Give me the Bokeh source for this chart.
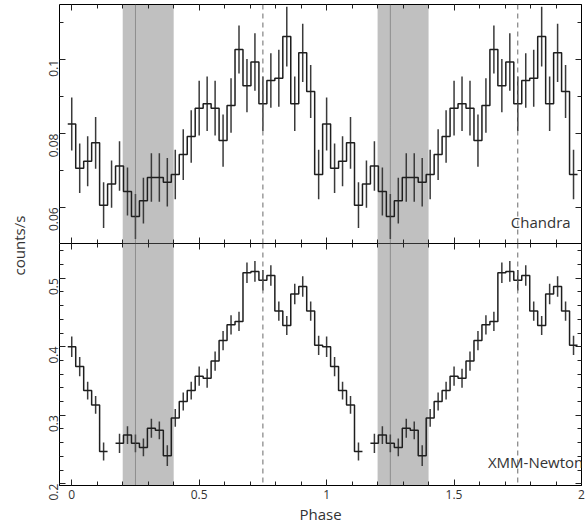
import math
import numpy as np
from bokeh.plotting import figure
from bokeh.models import LinearAxis, FixedTicker, BoxAnnotation, Span, Label, Range1d
from bokeh.layouts import row, column
from bokeh.embed import file_html
from bokeh.resources import INLINE
from bokeh.core.properties import value

# ---------------- data ----------------
bins_per_cycle = 32
n_cycles = 2

chandra_rate = [0.0826, 0.0706, 0.0725, 0.0775, 0.0606, 0.0663, 0.0712, 0.0643,
                0.0575, 0.0618, 0.0681, 0.0681, 0.0668, 0.0689, 0.0743, 0.0792,
                0.0869, 0.0881, 0.0869, 0.0781, 0.0876, 0.1028, 0.0930, 0.0994,
                0.0881, 0.0944, 0.0950, 0.1063, 0.0881, 0.1019, 0.0914, 0.0689]
chandra_err = [0.0072, 0.0067, 0.0068, 0.0070, 0.0062, 0.0064, 0.0067, 0.0065,
               0.0061, 0.0062, 0.0066, 0.0066, 0.0066, 0.0067, 0.0069, 0.0071,
               0.0074, 0.0074, 0.0074, 0.0071, 0.0074, 0.0065, 0.0072, 0.0078,
               0.0074, 0.0074, 0.0077, 0.0081, 0.0074, 0.0079, 0.0072, 0.0067]

nan = float("nan")
xmm_rate = [0.400, 0.371, 0.336, 0.315, 0.247, nan, 0.259, 0.271,
            0.259, 0.253, 0.281, 0.278, 0.241, 0.296, 0.320, 0.336,
            0.357, 0.354, 0.379, 0.409, 0.432, 0.437, 0.508, 0.510,
            0.497, 0.504, 0.452, 0.431, 0.477, 0.488, 0.452, 0.402]
xmm_err = [0.015, 0.014, 0.013, 0.013, 0.013, nan, 0.014, 0.013,
           0.013, 0.013, 0.014, 0.013, 0.015, 0.013, 0.013, 0.013,
           0.014, 0.014, 0.014, 0.014, 0.014, 0.014, 0.015, 0.015,
           0.015, 0.015, 0.014, 0.014, 0.015, 0.015, 0.014, 0.014]

x_ticks = [0, 0.5, 1, 1.5, 2]
x_tick_labels = ["0", "0.5", "1", "1.5", "2"]
chandra_ticks = [0.06, 0.08, 0.1]
chandra_tick_labels = ["0.06", "0.08", "0.1"]
xmm_ticks = [0.2, 0.3, 0.4, 0.5]
xmm_tick_labels = ["0.2", "0.3", "0.4", "0.5"]

shade_bands = [(0.2, 0.4), (1.2, 1.4)]
dashed_phases = [0.75, 1.75]
dotted_phases = [0.25, 1.25]

panel_names = ["Chandra", "XMM-Newton"]
x_label = "Phase"
y_label = "counts/s"

# ---------------- helpers ----------------
FONT = "Open Sans"
TXT = "#333333"
width_bin = 1.0 / bins_per_cycle
phase = np.arange(bins_per_cycle * n_cycles) / bins_per_cycle


def step_path(centers, vals, w):
    xs, ys = [], []
    for c, v in zip(centers, vals):
        if np.isnan(v):
            xs.append(np.nan)
            ys.append(np.nan)
            continue
        xs += [c - w / 2, c + w / 2]
        ys += [v, v]
    return xs, ys


def make_axis(ticks, minor, labels=None, vertical=False, line=True):
    ax = LinearAxis()
    ax.ticker = FixedTicker(ticks=ticks, minor_ticks=minor)
    ax.major_tick_in = 6
    ax.major_tick_out = 0
    ax.minor_tick_in = 4
    ax.minor_tick_out = 0
    ax.axis_line_color = "black" if line else None
    ax.major_tick_line_color = "#222222"
    ax.minor_tick_line_color = "#222222"
    if labels is None:
        ax.major_label_text_color = None
        ax.major_label_standoff = 0
    else:
        ax.major_label_overrides = {t: l for t, l in zip(ticks, labels)}
        ax.major_label_text_font = FONT
        ax.major_label_text_font_size = "12px"
        ax.major_label_text_color = TXT
        ax.major_label_standoff = 6
        if vertical:
            ax.major_label_orientation = math.pi / 2
    return ax


x_minor = [round(v, 2) for v in np.arange(0, 2.001, 0.1)]


def panel(rate, err, yr, y_ticks, y_labels, y_minor, name, name_xy, fh, top, bottom, show_x):
    p = figure(x_range=Range1d(-0.048, 2.0), y_range=Range1d(*yr),
               frame_width=522, frame_height=fh,
               min_border_left=29, min_border_right=7,
               min_border_top=top, min_border_bottom=bottom,
               x_axis_location=None, y_axis_location=None,
               output_backend="svg", toolbar_location=None,
               background_fill_color="white", border_fill_color="white")
    p.grid.visible = False
    p.outline_line_color = "black" if show_x else None
    p.outline_line_width = 1
    for a, b in shade_bands:
        p.add_layout(BoxAnnotation(left=a, right=b, fill_color="#c0c0c0", fill_alpha=1,
                                   line_alpha=0, level="underlay"))
    for d in dotted_phases:
        p.add_layout(Span(location=d, dimension="height", line_color="#5a5a5a",
                          line_dash="1 1", line_width=1))
    for d in dashed_phases:
        p.add_layout(Span(location=d, dimension="height", line_color="#6a6a6a",
                          line_dash="5 4", line_width=1))
    r = np.tile(np.array(rate, dtype=float), n_cycles)
    e = np.tile(np.array(err, dtype=float), n_cycles)
    p.segment(x0=phase, y0=r - e, x1=phase, y1=r + e, line_color="#3a3a3a", line_width=1.5)
    xs, ys = step_path(phase, r, width_bin)
    p.line(xs, ys, line_color="#1e1e1e", line_width=1.5)

    p.add_layout(make_axis(y_ticks, y_minor, y_labels, vertical=True), "left")
    p.add_layout(make_axis(y_ticks, y_minor, None), "right")
    p.add_layout(make_axis(x_ticks, x_minor, None, line=not show_x), "above")
    if show_x:
        bx = make_axis(x_ticks, x_minor, x_tick_labels)
        bx.major_label_standoff = 4
        bx.axis_label = x_label
        bx.axis_label_text_font = FONT
        bx.axis_label_text_font_size = "15px"
        bx.axis_label_text_font_style = "normal"
        bx.axis_label_text_color = TXT
        bx.axis_label_standoff = 2
        p.add_layout(bx, "below")
    else:
        p.add_layout(make_axis(x_ticks, x_minor, None, line=False), "below")
    p.add_layout(Label(x=name_xy[0], y=name_xy[1], text=name, text_align="center",
                       text_baseline="middle", text_font=FONT, text_font_size="15px",
                       text_color=TXT))
    return p


p1 = panel(chandra_rate, chandra_err, (0.0502, 0.1150), chandra_ticks, chandra_tick_labels,
           [round(v, 3) for v in np.arange(0.05, 0.1151, 0.01)], panel_names[0],
           (1.84, 0.0561), 239, 4, 0, False)
p2 = panel(xmm_rate, xmm_err, (0.1974, 0.5507), xmm_ticks, xmm_tick_labels,
           [round(v, 3) for v in np.arange(0.2, 0.551, 0.02)], panel_names[1],
           (1.82, 0.231), 242, 0, 41, True)

# y-axis title spanning both panels
pl = figure(width=30, height=526, x_range=Range1d(0, 30), y_range=Range1d(0, 526),
            x_axis_location=None, y_axis_location=None, min_border=0,
            output_backend="svg", toolbar_location=None)
pl.outline_line_color = None
pl.grid.visible = False
pl.text(x=[18], y=[281], text=[y_label], angle=math.pi / 2, text_align="center",
        text_baseline="middle", text_font=value(FONT), text_font_size="15px",
        text_color=TXT)

layout = row(pl, column(p1, p2, spacing=0), spacing=0)
open("out.html", "w").write(file_html(layout, INLINE))
